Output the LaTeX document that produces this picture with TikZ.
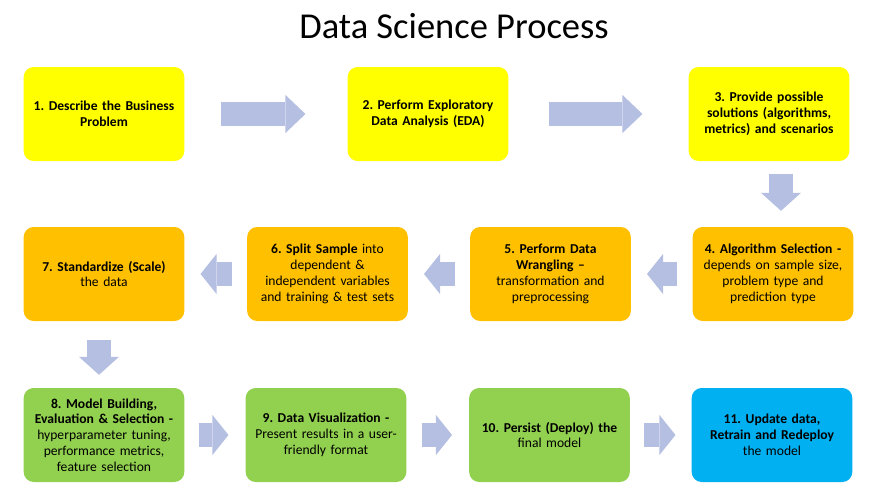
\documentclass[tikz,border=0pt]{standalone}
\usepackage{fontspec}
\setmainfont{Carlito}
\usetikzlibrary{arrows.meta}
\frenchspacing

\definecolor{stepyellow}{HTML}{FFFF00}
\definecolor{steporange}{HTML}{FFC000}
\definecolor{stepgreen}{HTML}{92D050}
\definecolor{stepblue}{HTML}{00B0F0}
\definecolor{arrowblue}{RGB}{180,191,226}

\tikzstyle{block} = [rectangle, draw=none, text width=154pt, text centered, rounded corners=10pt,
     minimum width=158pt, minimum height=94pt, font=\fontsize{13.6}{15.8}\selectfont]
\tikzstyle{flow} = [draw=arrowblue, line width=24pt, -{Triangle[length=16pt,width=40pt,line width=0pt]}]

\begin{document}
\begin{tikzpicture}[x=1pt, y=-1pt, node distance=223pt]
    \useasboundingbox (0,0) rectangle (874,490);
    \node (title) at (454,26) {\fontsize{36.5}{40}\selectfont Data Science Process};

    % Boxes, first row
    \node [block, fill=stepyellow] (business_problem) at (104,114) {\textbf{1. Describe the Business\\ Problem}};
    \node [block, fill=stepyellow, right of=business_problem, node distance=324pt] (eda) {\textbf{2. Perform Exploratory\\ Data Analysis (EDA)}};
    \node [block, fill=stepyellow, right of=eda, node distance=341pt] (solutions) {\textbf{3. Provide possible\\ solutions (algorithms,\\ metrics) and scenarios}};

    % Boxes, second row
    \node [block, fill=steporange, below of=business_problem, node distance=160pt] (standardize) {\textbf{7. Standardize (Scale)}\\ the data};
    \node [block, fill=steporange, right of=standardize, node distance=223.5pt] (split_sample) {\textbf{6. Split Sample} into\\ dependent \&\\ independent variables\\ and training \& test sets};
    \node [block, fill=steporange, right of=split_sample] (wrangling) {\textbf{5. Perform Data\\ Wrangling --}\\ transformation and\\ preprocessing};
    \node [block, fill=steporange, right of=wrangling, node distance=222.5pt] (algorithm_selection) {\textbf{4. Algorithm Selection -}\\ depends on sample size,\\ problem type and\\ prediction type};

    % Boxes, third row
    \node [block, fill=stepgreen, below of=standardize, node distance=161pt] (model_building) {\textbf{8. Model Building,\\ Evaluation \& Selection -}\\ hyperparameter tuning,\\ performance metrics,\\ feature selection};
    \node [block, fill=stepgreen, right of=model_building, node distance=222pt] (visualization) {\textbf{9. Data Visualization -}\\ Present results in a user-\\ friendly format};
    \node [block, fill=stepgreen, right of=visualization, node distance=223.5pt] (deploy) {\textbf{10. Persist (Deploy) the}\\ final model};
    \node [block, fill=stepblue, right of=deploy, node distance=222.5pt] (retrain) {\textbf{11. Update data,\\ Retrain and Redeploy}\\ the model};

    % Arrows
    \path [flow, -{Triangle[length=20pt,width=38pt,line width=0pt]}, shorten <=36pt, shorten >=42pt] (business_problem.east) -- (eda.west);
    \path [flow, -{Triangle[length=20pt,width=38pt,line width=0pt]}, shorten <=40pt, shorten >=46pt] (eda.east) -- (solutions.west);
    \path [flow, -{Triangle[length=18pt,width=40pt,line width=0pt]}, shorten <=13pt, shorten >=16pt] ([xshift=12pt]solutions.south) -- ([xshift=8pt]algorithm_selection.north);
    \path [flow, shorten <=15pt, shorten >=16pt] (algorithm_selection.west) -- (wrangling.east);
    \path [flow, shorten <=15pt, shorten >=16pt] (wrangling.west) -- (split_sample.east);
    \path [flow, shorten <=15pt, shorten >=16pt] (split_sample.west) -- (standardize.east);
    \path [flow, -{Triangle[length=18pt,width=40pt,line width=0pt]}, shorten <=19pt, shorten >=13pt] ([xshift=-5pt]standardize.south) -- ([xshift=-5pt]model_building.north);
    \path [flow, shorten <=14pt, shorten >=17pt] (model_building.east) -- (visualization.west);
    \path [flow, shorten <=15pt, shorten >=17pt] (visualization.east) -- (deploy.west);
    \path [flow, shorten <=14pt, shorten >=16pt] (deploy.east) -- (retrain.west);

\end{tikzpicture}
\end{document}
